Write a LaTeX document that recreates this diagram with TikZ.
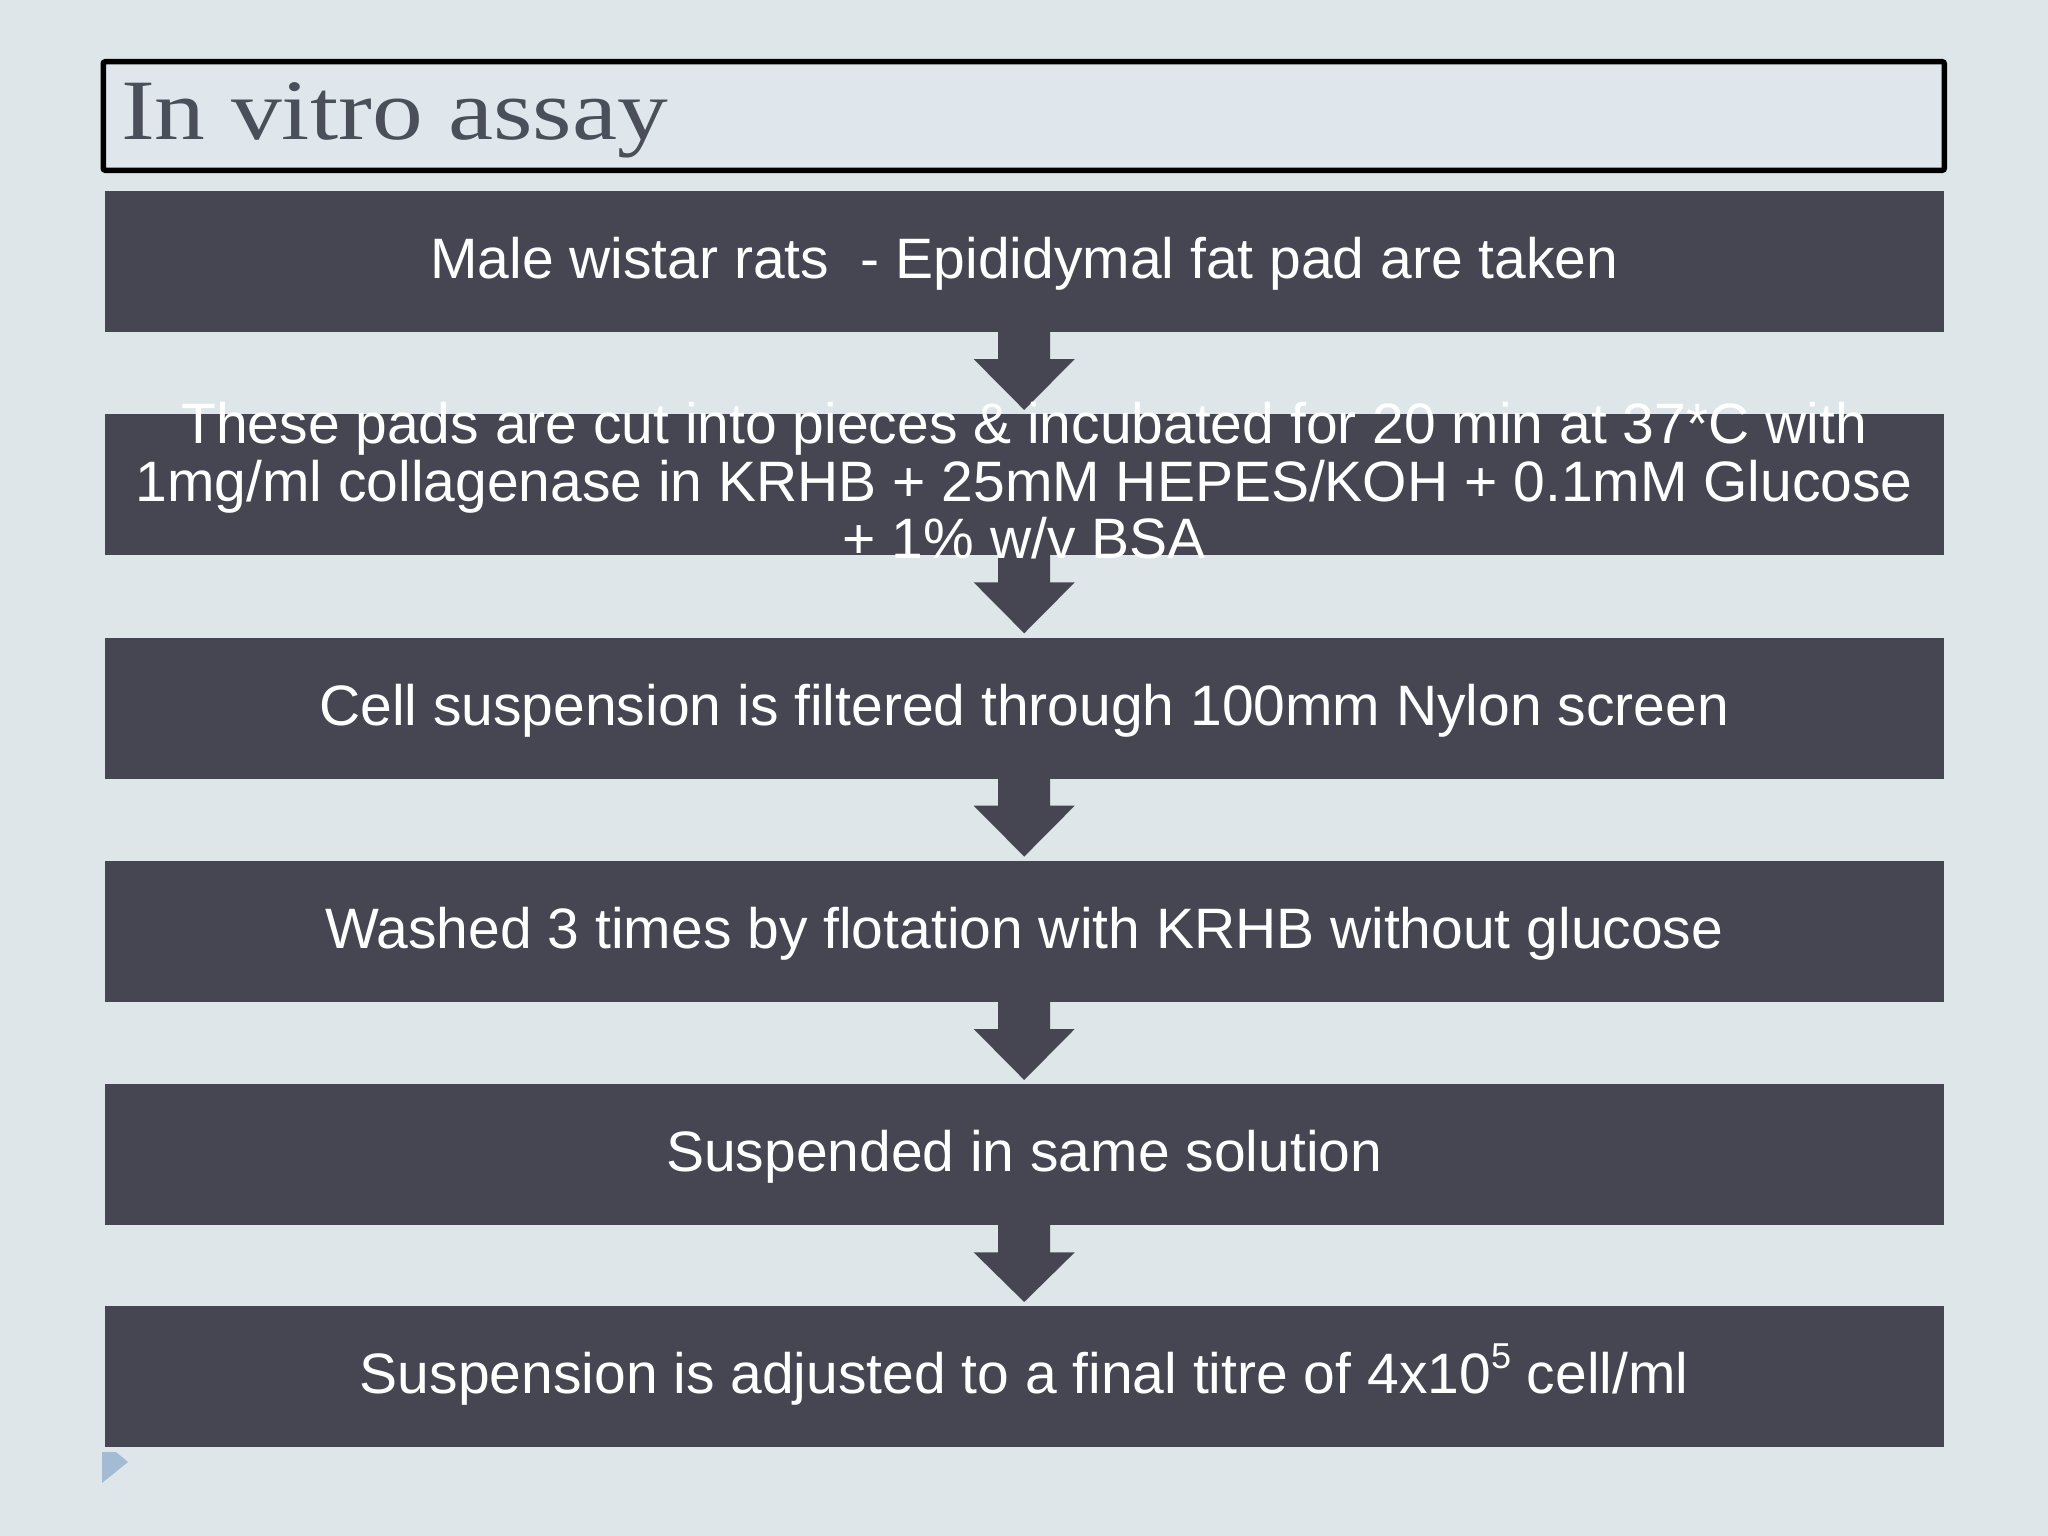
\documentclass[tikz,border=0pt]{standalone}
\usepackage{fontspec}
\setmainfont{Liberation Sans}
\newfontfamily\titlefont[FakeStretch=1.18]{Liberation Serif}
\usetikzlibrary{calc}
\definecolor{bgc}{HTML}{DEE6E9}
\definecolor{titlebg}{HTML}{DFE7EC}
\definecolor{boxc}{HTML}{464652}
\definecolor{titlec}{HTML}{4B4F59}
\definecolor{markc}{HTML}{A3BBD3}
\pgfdeclarelayer{bglayer}
\pgfdeclarelayer{arrowlayer}
\pgfsetlayers{bglayer,arrowlayer,main}
\newcommand{\mysup}[1]{\raisebox{0.45em}{\fontsize{36}{36}\selectfont #1}}
\begin{document}
\begin{tikzpicture}[x=1pt,y=-1pt,
  stepbox/.style={fill=boxc, draw=none, minimum width=1839pt, minimum height=141pt,
    inner sep=0pt, anchor=north west},
  steptext/.style={text=white, inner sep=0pt, align=center,
    font=\fontsize{57}{57.5}\selectfont},
  titlebox/.style={draw=black, line width=5.5pt, rounded corners=2pt, fill=titlebg,
    minimum width=1841pt, minimum height=108.5pt, inner sep=0pt, anchor=north west}]
\begin{pgfonlayer}{bglayer}
  \fill[bgc] (0,0) rectangle (2048,1536);
\end{pgfonlayer}
\useasboundingbox (0,0) rectangle (2048,1536);

% title
\node[titlebox] (title) at (100.5,59) {};
\node[anchor=base west, inner sep=0pt, text=titlec, font=\titlefont\fontsize{86}{86}\selectfont]
  (ttext) at (121,140) {In vitro assay};

% boxes
\node[stepbox] (b1) at (104.5,190.7) {};
\node[stepbox] (b2) at (104.5,414) {};
\node[stepbox] (b3) at (104.5,637.3) {};
\node[stepbox] (b4) at (104.5,860.6) {};
\node[stepbox] (b5) at (104.5,1084) {};
\node[stepbox] (b6) at (104.5,1306) {};

% texts
\node[steptext, anchor=base] (t1) at ($(b1.center)+(0,17)$) {Male wistar rats \ - Epididymal fat pad are taken};
\node[steptext, anchor=center] (t2) at ($(b2.center)+(0,-4)$) {These pads are cut into pieces \& incubated for 20 min at 37*C with\\1mg/ml collagenase in KRHB + 25mM HEPES/KOH + 0.1mM Glucose\\+ 1\% w/v BSA};
\node[steptext, anchor=base] (t3) at ($(b3.center)+(0,17)$) {Cell suspension is filtered through 100mm Nylon screen};
\node[steptext, anchor=base] (t4) at ($(b4.center)+(0,17)$) {Washed 3 times by flotation with KRHB without glucose};
\node[steptext, anchor=base] (t5) at ($(b5.center)+(0,17)$) {Suspended in same solution};
\node[steptext, anchor=base] (t6) at ($(b6.center)+(0,17)$) {Suspension is adjusted to a final titre of 4x10\mysup{5} cell/ml};

% arrows
\begin{pgfonlayer}{arrowlayer}
\foreach \a/\b in {b1/b2,b2/b3,b3/b4,b4/b5,b5/b6}{
  \fill[boxc] ($(\a.south)+(-26,-1)$) -- ($(\a.south)+(-26,27)$) -- ($(\a.south)+(-50.5,27)$)
    -- ($(\b.north)+(0,-4)$) -- ($(\a.south)+(50.5,27)$) -- ($(\a.south)+(26,27)$)
    -- ($(\a.south)+(26,-1)$) -- cycle;
}
\end{pgfonlayer}

% bullet mark
\fill[markc] (102,1452) -- (116,1452) -- (128,1462) -- (102,1483) -- cycle;
\end{tikzpicture}
\end{document}
